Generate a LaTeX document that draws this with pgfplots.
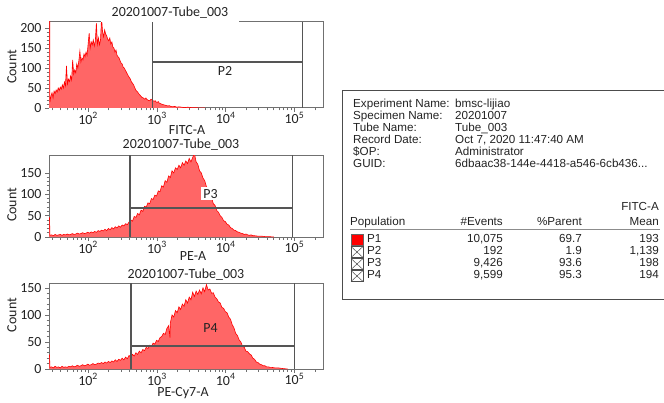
\documentclass[border=0pt]{standalone}
\usepackage{pgfplots}
\pgfplotsset{compat=1.18}
\usepackage{pgfplotstable}
\usepackage{fontspec}
\setmainfont{Carlito}
\newfontfamily\tabfont{Liberation Sans}
\definecolor{histfill}{RGB}{255,102,102}
\definecolor{histline}{RGB}{255,0,0}
\definecolor{framegray}{RGB}{112,112,112}
\definecolor{gategray}{RGB}{85,85,85}
\definecolor{txt}{RGB}{35,35,35}

\pgfplotstableread{
lx c
1.431 300
1.440 300
1.445 15
1.46 30
1.475 38
1.49 25
1.505 42
1.52 36
1.535 45
1.55 40
1.565 50
1.58 44
1.595 52
1.61 47
1.625 58
1.64 50
1.655 65
1.67 55
1.685 105
1.70 60
1.715 72
1.73 66
1.745 80
1.76 70
1.775 120
1.79 85
1.805 95
1.82 88
1.835 110
1.85 100
1.865 118
1.88 142
1.895 115
1.91 125
1.925 120
1.94 135
1.955 128
1.97 140
1.985 132
2.0 160
2.015 187
2.03 150
2.045 165
2.06 158
2.075 170
2.09 155
2.105 168
2.12 212
2.135 160
2.15 175
2.165 158
2.18 170
2.195 225
2.21 190
2.225 178
2.24 195
2.255 185
2.27 180
2.285 172
2.30 168
2.315 175
2.33 160
2.345 165
2.36 152
2.375 150
2.39 140
2.405 145
2.42 132
2.435 128
2.45 125
2.465 118
2.48 112
2.495 110
2.51 102
2.525 100
2.54 95
2.555 90
2.57 85
2.585 80
2.60 76
2.615 72
2.63 65
2.645 62
2.66 58
2.675 52
2.69 46
2.705 42
2.72 40
2.735 36
2.75 33
2.765 30
2.78 27
2.795 26
2.81 24
2.825 22
2.84 25
2.855 21
2.87 20
2.885 18
2.90 19
2.915 22
2.93 20
2.945 18
2.96 17
2.975 18
2.99 15
3.005 14
3.02 16
3.035 12
3.05 11
3.065 10
3.08 9
3.10 8
3.12 7
3.14 6
3.16 5
3.18 6
3.20 4
3.23 3
3.26 4
3.29 2
3.32 3
3.36 2
3.40 1
3.45 2
3.50 1
3.56 1
3.62 0
3.70 0
}\fitc

\pgfplotstableread{
lx c
1.431 45
1.438 45
1.445 4
1.47 5
1.495 3
1.52 6
1.545 4
1.57 5
1.595 6
1.62 4
1.645 6
1.67 5
1.695 7
1.72 5
1.745 6
1.77 8
1.795 6
1.82 7
1.845 9
1.87 7
1.895 8
1.92 10
1.945 8
1.97 9
1.995 11
2.02 9
2.045 12
2.07 10
2.095 13
2.12 11
2.145 15
2.17 13
2.195 16
2.22 14
2.245 18
2.27 15
2.295 20
2.32 17
2.345 22
2.37 19
2.395 24
2.42 21
2.445 26
2.47 23
2.495 28
2.52 26
2.545 31
2.57 29
2.595 35
2.62 40
2.645 37
2.67 48
2.695 46
2.72 55
2.745 52
2.77 63
2.795 60
2.82 72
2.845 70
2.87 80
2.895 78
2.92 90
2.945 88
2.97 98
2.995 96
3.02 108
3.045 106
3.07 120
3.095 117
3.12 132
3.145 128
3.17 143
3.195 139
3.22 155
3.245 150
3.27 162
3.295 158
3.32 168
3.345 162
3.37 174
3.395 168
3.42 178
3.445 172
3.47 184
3.495 176
3.52 186
3.545 196
3.57 176
3.595 170
3.62 155
3.645 150
3.67 138
3.695 132
3.72 118
3.745 112
3.77 98
3.795 92
3.82 78
3.845 74
3.87 62
3.895 58
3.92 50
3.945 46
3.97 38
3.995 36
4.02 30
4.045 28
4.07 22
4.095 20
4.12 16
4.145 15
4.17 12
4.195 11
4.22 9
4.245 8
4.27 6
4.295 7
4.32 5
4.345 4
4.37 5
4.395 3
4.42 3
4.47 2
4.52 2
4.57 1
4.62 1
4.7 0
}\pe

\pgfplotstableread{
lx c
1.431 26
1.438 26
1.445 3
1.47 4
1.495 2
1.52 5
1.545 3
1.57 4
1.595 2
1.62 5
1.645 3
1.67 4
1.695 3
1.72 5
1.745 4
1.77 6
1.795 4
1.82 5
1.845 7
1.87 5
1.895 6
1.92 8
1.945 6
1.97 7
1.995 9
2.02 7
2.045 8
2.07 10
2.095 8
2.12 9
2.145 11
2.17 10
2.195 12
2.22 10
2.245 13
2.27 11
2.295 14
2.32 12
2.345 15
2.37 13
2.395 17
2.42 14
2.445 18
2.47 16
2.495 20
2.52 17
2.545 22
2.57 19
2.595 25
2.62 22
2.645 27
2.67 24
2.695 30
2.72 27
2.745 33
2.77 30
2.795 36
2.82 34
2.845 40
2.87 38
2.895 44
2.92 42
2.945 48
2.97 46
2.995 53
3.02 51
3.045 58
3.07 60
3.095 66
3.12 64
3.145 75
3.17 80
3.19 58
3.195 85
3.22 100
3.245 96
3.27 108
3.295 104
3.32 115
3.345 110
3.37 120
3.395 116
3.42 128
3.445 122
3.47 133
3.495 128
3.52 142
3.545 134
3.57 144
3.595 138
3.62 146
3.645 139
3.67 150
3.695 143
3.72 156
3.745 146
3.77 148
3.795 140
3.82 141
3.845 133
3.87 130
3.895 124
3.92 122
3.945 114
3.97 112
3.995 106
4.02 104
4.045 96
4.07 92
4.095 82
4.12 76
4.145 66
4.17 62
4.195 54
4.22 50
4.245 42
4.27 40
4.295 33
4.32 32
4.345 28
4.37 26
4.395 20
4.42 18
4.445 13
4.47 12
4.495 9
4.52 8
4.545 6
4.57 6
4.595 4
4.62 4
4.645 3
4.67 3
4.72 2
4.77 2
4.82 1
4.9 0
}\pecy

\pgfplotsset{
  flowaxis/.style={
    scale only axis, width=274bp, anchor=south west,
    xmin=1.431, xmax=5.415, ymin=0,
    xtick={2,3,4,5},
    xticklabels={10\textsuperscript{2},10\textsuperscript{3},10\textsuperscript{4},10\textsuperscript{5}},
    minor xtick={1.477,1.602,1.699,1.778,1.845,1.903,1.954,
      2.301,2.477,2.602,2.699,2.778,2.845,2.903,2.954,
      3.301,3.477,3.602,3.699,3.778,3.845,3.903,3.954,
      4.301,4.477,4.602,4.699,4.778,4.845,4.903,4.954,5.301},
    minor y tick num=4,
    tick align=outside, tick pos=left,
    major tick length=4bp, minor tick length=2.5bp,
    axis line style={framegray, line width=1bp},
    every tick/.style={framegray, line width=0.7bp},
    tick label style={font=\fontsize{14}{16}\selectfont, text=txt},
    xticklabel style={yshift=3bp},
    /pgf/number format/assume math mode=true,
    axis on top=false,
    clip=true,
  },
  gate/.style={gategray, line width=1.2bp, no marks},
  histf/.style={fill=histfill, draw=none, no marks},
  histl/.style={histline, line width=0.6bp, no marks},
}

\begin{document}
\begin{tikzpicture}[x=1bp,y=1bp]
\useasboundingbox (0,0) rectangle (664,402);

% ---------- Plot 1 : FITC-A ----------
\begin{axis}[flowaxis, at={(49bp,294bp)}, height=86bp, ymax=215, ytick={0,50,100,150,200}]
\addplot[histf] table[x=lx,y=c] {\fitc} \closedcycle;
\addplot[histl] table[x=lx,y=c] {\fitc};
\addplot[gate] coordinates {(2.934,0) (2.934,215)};
\addplot[gate] coordinates {(5.117,0) (5.117,215)};
\addplot[gate] coordinates {(2.934,115) (5.117,115)};
\node[fill=white, inner sep=1.5bp, text=txt, font=\fontsize{14}{16}\selectfont] at (axis cs:3.99,92) {P2};
\end{axis}

% ---------- Plot 2 : PE-A ----------
\begin{axis}[flowaxis, at={(49bp,165bp)}, height=82bp, ymax=192, ytick={0,50,100,150}]
\addplot[histf] table[x=lx,y=c] {\pe} \closedcycle;
\addplot[histl] table[x=lx,y=c] {\pe};
\addplot[gate] coordinates {(2.609,0) (2.609,192)};
\addplot[gate] coordinates {(4.971,0) (4.971,192)};
\addplot[gate] coordinates {(2.609,68) (4.971,68)};
\node[fill=white, inner sep=2bp, text=txt, font=\fontsize{14}{16}\selectfont] at (axis cs:3.78,101) {P3};
\end{axis}

% ---------- Plot 3 : PE-Cy7-A ----------
\begin{axis}[flowaxis, at={(49bp,33bp)}, height=86bp, ymax=159, ytick={0,50,100,150}]
\addplot[histf] table[x=lx,y=c] {\pecy} \closedcycle;
\addplot[histl] table[x=lx,y=c] {\pecy};
\addplot[gate] coordinates {(2.623,0) (2.623,159)};
\addplot[gate] coordinates {(5.0,0) (5.0,159)};
\addplot[gate] coordinates {(2.623,42.6) (5.0,42.6)};
\node[inner sep=1bp, text=txt, font=\fontsize{14}{16}\selectfont] at (axis cs:3.78,76) {P4};
\end{axis}

% titles and axis labels
\begin{scope}[every node/.style={text=txt, font=\fontsize{14}{16}\selectfont}]
\node[fill=white, inner xsep=11bp, inner ysep=3bp] at (170,389) {20201007-Tube\_003};
\node at (181,257) {20201007-Tube\_003};
\node at (186,127) {20201007-Tube\_003};
\node at (187,272) {FITC-A};
\node at (193,146) {PE-A};
\node at (183,9) {PE-Cy7-A};
\node[rotate=90] at (12,335) {Count};
\node[rotate=90] at (12,197) {Count};
\node[rotate=90] at (12,87) {Count};
\end{scope}

% ---------- information table ----------
\draw[black!70, line width=1bp] (680,312) -- (342,312) -- (342,103) -- (680,103);
\begin{scope}[every node/.style={text=txt, font=\tabfont\fontsize{11.7}{13}\selectfont, inner sep=0pt}]
\node[anchor=mid west] at (353,297) {Experiment Name:};
\node[anchor=mid west] at (353,285) {Specimen Name:};
\node[anchor=mid west] at (353,273) {Tube Name:};
\node[anchor=mid west] at (353,261) {Record Date:};
\node[anchor=mid west] at (353,249) {\$OP:};
\node[anchor=mid west] at (353,237) {GUID:};
\node[anchor=mid west] at (455,297) {bmsc-lijiao};
\node[anchor=mid west] at (455,285) {20201007};
\node[anchor=mid west] at (455,273) {Tube\_003};
\node[anchor=mid west] at (455,261) {Oct 7, 2020 11:47:40 AM};
\node[anchor=mid west] at (455,249) {Administrator};
\node[anchor=mid west] at (455,237) {6dbaac38-144e-4418-a546-6cb436...};
\node[anchor=mid east] at (659,194) {FITC-A};
\node[anchor=mid west] at (350,179) {Population};
\node[anchor=mid east] at (503,179) {\#Events};
\node[anchor=mid east] at (582,179) {\%Parent};
\node[anchor=mid east] at (659,179) {Mean};
\node[anchor=mid west] at (367,162) {P1};
\node[anchor=mid west] at (367,150) {P2};
\node[anchor=mid west] at (367,138) {P3};
\node[anchor=mid west] at (367,126) {P4};
\node[anchor=mid east] at (503,162) {10,075};
\node[anchor=mid east] at (503,150) {192};
\node[anchor=mid east] at (503,138) {9,426};
\node[anchor=mid east] at (503,126) {9,599};
\node[anchor=mid east] at (582,162) {69.7};
\node[anchor=mid east] at (582,150) {1.9};
\node[anchor=mid east] at (582,138) {93.6};
\node[anchor=mid east] at (582,126) {95.3};
\node[anchor=mid east] at (659,162) {193};
\node[anchor=mid east] at (659,150) {1,139};
\node[anchor=mid east] at (659,138) {198};
\node[anchor=mid east] at (659,126) {194};
\end{scope}
\draw[black!45, line width=0.8bp] (350,172.5) -- (660,172.5);
\fill[red] (351,157) rectangle (363,168);
\draw[black!60, line width=0.6bp] (351,157) rectangle (363,168);
\foreach \yy in {150,138,126} {
  \draw[black!70, line width=0.6bp] (351,\yy-5.5) rectangle (363,\yy+5.5);
  \draw[black!70, line width=0.5bp] (351,\yy-5.5) -- (363,\yy+5.5) (351,\yy+5.5) -- (363,\yy-5.5);
}
\end{tikzpicture}
\end{document}
